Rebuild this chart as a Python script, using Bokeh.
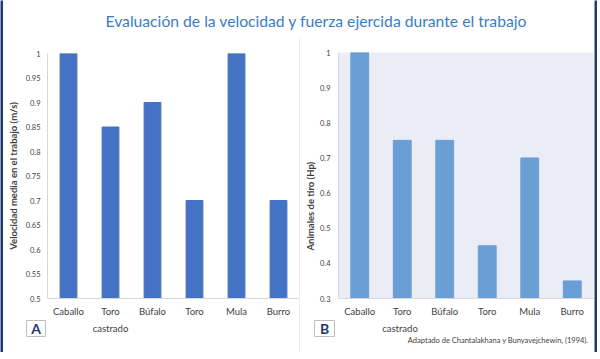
import json
from bokeh.plotting import figure
from bokeh.layouts import column, row
from bokeh.models import (Range1d, FactorRange, FixedTicker, NumeralTickFormatter, Label,
                          CustomJSTickFormatter, Spacer, Title)
from bokeh.core.properties import value
from bokeh.embed import file_html
from bokeh.resources import INLINE

# ---- data ----
TITLE = "Evaluación de la velocidad y fuerza ejercida durante el trabajo"
animals = ["Caballo", "Toro castrado", "Búfalo", "Toro", "Mula", "Burro"]
first_line = {"Toro castrado": "Toro"}
second_line = {"Toro castrado": "castrado"}
speed = [1.0, 0.85, 0.9, 0.7, 1.0, 0.7]
power = [1.0, 0.75, 0.75, 0.45, 0.7, 0.35]
speed_ticks = [0.5, 0.55, 0.6, 0.65, 0.7, 0.75, 0.8, 0.85, 0.9, 0.95, 1.0]
power_ticks = [0.3, 0.4, 0.5, 0.6, 0.7, 0.8, 0.9, 1.0]
YLABEL_A = "Velocidad media en el trabajo (m/s)"
YLABEL_B = "Animales de tiro (Hp)"
SOURCE = "Adaptado de Chantalakhana y Bunyavejchewin, (1994)."

FONT = "Lato"
NAVY = "#1f3a6e"
GREY_LINE = "#d9d9d9"
TEXT = "#404040"
MAIN_H = 281
SUB_H = 33


def strip(w, h, color):
    p = figure(width=w, height=h, output_backend="svg", toolbar_location=None,
               min_border=0, x_range=(0, 1), y_range=(0, 1),
               x_axis_type=None, y_axis_type=None)
    p.grid.visible = False
    p.outline_line_color = None
    p.background_fill_color = color
    p.border_fill_color = color
    return p


def tag_box(letter, w, h):
    p = figure(width=w, height=h, output_backend="svg", toolbar_location=None,
               min_border=1, x_range=(0, 1), y_range=(0, 1),
               x_axis_type=None, y_axis_type=None)
    p.grid.visible = False
    p.outline_line_color = "#bfbfbf"
    p.background_fill_color = "white"
    p.border_fill_color = "white"
    p.text(x=[0.5], y=[0.5], text=[letter], text_align="center", text_baseline="middle",
           text_font=value(FONT), text_font_size="14px", text_font_style="bold",
           text_color=NAVY)
    return p


def js_map(mapping, default_same):
    fallback = "tick" if default_same else '""'
    return CustomJSTickFormatter(
        code="const m = %s; return (tick in m) ? m[tick] : %s;" % (json.dumps(mapping), fallback))


def panel(vals, ticks, bar_color, bg, width, left, right, top, bar_w, std):
    xr = FactorRange(factors=animals)
    p = figure(width=width, height=MAIN_H, output_backend="svg", toolbar_location=None,
               x_range=xr, y_range=Range1d(ticks[0], ticks[-1]),
               min_border_left=left, min_border_right=right,
               min_border_top=top, min_border_bottom=19)
    p.vbar(x=animals, top=vals, width=bar_w, color=bar_color)
    p.grid.visible = False
    p.outline_line_color = None
    p.background_fill_color = bg
    p.border_fill_color = "white"
    for ax in (p.xaxis, p.yaxis):
        ax.axis_line_color = GREY_LINE
        ax.major_tick_line_color = None
        ax.minor_tick_line_color = None
        ax.major_tick_out = 0
        ax.major_tick_in = 0
        ax.minor_tick_out = 0
        ax.major_label_text_font = FONT
        ax.major_label_text_color = TEXT
    p.xaxis.major_label_text_font_size = "9.5px"
    p.xaxis.major_label_standoff = 7
    p.xaxis.formatter = js_map(first_line, True)
    p.yaxis.ticker = FixedTicker(ticks=ticks)
    p.yaxis.formatter = NumeralTickFormatter(format="0.[00]")
    p.yaxis.major_label_text_font_size = "7.5px"
    p.yaxis.major_label_standoff = std

    # second line of the category labels
    sub = figure(width=width - left, height=SUB_H, output_backend="svg", toolbar_location=None,
                 x_range=xr, y_range=(0, 1), x_axis_location="above", y_axis_type=None,
                 min_border_left=0, min_border_right=right, min_border_top=13,
                 min_border_bottom=0)
    sub.grid.visible = False
    sub.outline_line_color = None
    sub.xaxis.axis_line_color = None
    sub.xaxis.major_tick_line_color = None
    sub.xaxis.minor_tick_line_color = None
    sub.xaxis.major_tick_out = 0
    sub.xaxis.major_tick_in = 0
    sub.xaxis.minor_tick_out = 0
    sub.xaxis.major_label_standoff = 0
    sub.xaxis.major_label_text_font = FONT
    sub.xaxis.major_label_text_font_size = "9.5px"
    sub.xaxis.major_label_text_color = TEXT
    sub.xaxis.formatter = js_map(second_line, False)
    return p, sub


title_fig = strip(591, 37, "white")
title_fig.add_layout(Label(text=TITLE, x=313, y=17, x_units="screen", y_units="screen",
                           text_align="center", text_baseline="middle",
                           text_font=FONT, text_font_size="15.7px", text_color="#3a7cc4"))
hline = strip(591, 1, GREY_LINE)

figA, subA = panel(speed, speed_ticks, "#4472c4", "white", 296, 44, 0, 15, 0.4, 7)
figA.yaxis.axis_label = YLABEL_A
figA.yaxis.axis_label_text_font = FONT
figA.yaxis.axis_label_text_font_style = "bold"
figA.yaxis.axis_label_text_font_size = "9.5px"
figA.yaxis.axis_label_text_color = TEXT
figA.yaxis.axis_label_standoff = 4

figB, subB = panel(power, power_ticks, "#6a9fd6", "#ebedf6", 294, 35, 1, 14, 0.42, 8)
figB.add_layout(Title(text=YLABEL_B, align="left", offset=48, standoff=4,
                      text_font=FONT, text_font_size="9.5px", text_font_style="bold",
                      text_color=TEXT), "left")
subB.add_layout(Label(text=SOURCE, x=253, y=12, x_units="screen", y_units="screen",
                      text_align="right", text_baseline="middle",
                      text_font=FONT, text_font_size="7.5px", text_color=TEXT))

rowA = row(Spacer(width=22, height=SUB_H),
           column(tag_box("A", 21, 18), Spacer(width=21, height=SUB_H - 18)),
           Spacer(width=1, height=SUB_H), subA)
rowB = row(Spacer(width=13, height=SUB_H),
           column(tag_box("B", 22, 18), Spacer(width=22, height=SUB_H - 18)),
           subB)
colA = column(figA, rowA)
colB = column(figB, rowB)
divider = strip(1, MAIN_H + SUB_H, GREY_LINE)

inner = column(title_fig, hline, row(colA, divider, colB))
body = row(strip(3, 352, NAVY), inner, strip(3, 352, NAVY))
layout = column(body, strip(597, 3, NAVY))

open("out.html", "w").write(file_html(layout, INLINE))
